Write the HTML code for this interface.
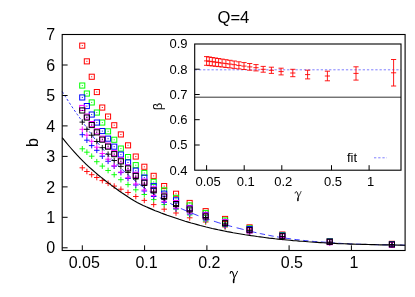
<!DOCTYPE html>
<html><head><meta charset="utf-8"><title>Q=4</title>
<style>html,body{margin:0;padding:0;background:#fff}svg text{font-family:"Liberation Sans",sans-serif;fill:#000}</style>
</head><body>
<svg width="415" height="297" viewBox="0 0 415 297" style="display:block;will-change:transform;opacity:0.999">
<rect width="415" height="297" fill="#fff"/>
<path d="M62.2,91.5 L65.2,96.3 L68.2,101.0 L71.2,105.6 L74.2,110.0 L77.2,114.3 L80.2,118.5 L83.2,122.6 L86.2,127.1 L89.2,131.3 L92.2,135.5" fill="none" stroke="#0000ff" stroke-width="0.78" stroke-dasharray="2.4 2.0"/>
<path d="M92.2,135.5 L95.2,139.4 L98.2,143.3 L101.2,147.0 L104.2,150.6 L107.2,154.0 L110.2,157.3 L113.2,160.5 L116.2,163.6 L119.2,166.6 L122.2,169.5 L125.2,172.3 L128.2,175.0 L131.2,177.6 L134.2,180.1 L137.2,182.5 L140.2,184.8" fill="none" stroke="#0000ff" stroke-width="0.78" stroke-dasharray="4.5 3"/>
<path d="M140.2,184.8 L143.2,187.1 L146.2,189.2 L149.2,191.2 L152.2,193.1 L155.2,195.0 L158.2,196.8 L161.2,198.5 L164.2,200.2 L167.2,201.8 L170.2,203.4 L173.2,204.9 L176.2,206.4 L179.2,207.8 L182.2,209.1 L185.2,210.4 L188.2,211.7 L191.2,212.9 L194.2,214.1 L197.2,215.3 L200.2,216.4 L203.2,217.4 L206.2,218.5 L209.2,219.5 L212.2,220.6 L215.2,221.6 L218.2,222.6 L221.2,223.5 L224.2,224.4 L227.2,225.3 L230.2,226.1 L233.2,226.9 L236.2,227.7 L239.2,228.4 L242.2,229.2 L245.2,229.9 L248.2,230.7 L251.2,231.5" fill="none" stroke="#0000ff" stroke-width="0.78" stroke-dasharray="7.2 4.6"/>
<path d="M251.2,231.5 L254.2,232.2 L257.2,232.9 L260.2,233.6 L263.2,234.2 L266.2,234.8 L269.2,235.4 L272.2,236.0 L275.2,236.5 L278.2,237.0 L281.2,237.5 L284.2,237.9 L287.2,238.4 L290.2,238.8 L293.2,239.2 L296.2,239.6 L299.2,239.9 L302.2,240.3 L305.2,240.6 L308.2,240.9 L311.2,241.2 L314.2,241.5 L317.2,241.7 L320.2,241.9 L323.2,242.1 L326.2,242.3 L329.2,242.5 L332.2,242.8 L335.2,243.0 L338.2,243.2 L341.2,243.4 L344.2,243.6 L347.2,243.7 L350.2,243.9 L353.2,244.0 L356.2,244.1 L359.2,244.2 L362.2,244.3 L365.2,244.4 L368.2,244.5 L371.2,244.5 L374.2,244.6 L377.2,244.7 L380.2,244.8 L383.2,244.8 L386.2,244.9 L389.2,245.0 L392.2,245.0 L395.2,245.1 L398.2,245.1 L401.2,245.1 L404.2,245.2 L405.1,245.2" fill="none" stroke="#0000ff" stroke-width="0.78" stroke-dasharray="5.4 3.4"/>
<path d="M79.5,167.8H85.1M82.3,165.0V170.6" stroke="#ff0000" stroke-width="0.92" fill="none"/>
<path d="M84.1,171.5H89.7M86.9,168.7V174.3" stroke="#ff0000" stroke-width="0.92" fill="none"/>
<path d="M88.9,174.7H94.5M91.7,171.9V177.5" stroke="#ff0000" stroke-width="0.92" fill="none"/>
<path d="M94.0,177.5H99.6M96.8,174.7V180.3" stroke="#ff0000" stroke-width="0.92" fill="none"/>
<path d="M99.5,180.6H105.1M102.3,177.8V183.4" stroke="#ff0000" stroke-width="0.92" fill="none"/>
<path d="M105.3,183.3H110.9M108.1,180.5V186.1" stroke="#ff0000" stroke-width="0.92" fill="none"/>
<path d="M111.4,186.1H117.0M114.2,183.3V188.9" stroke="#ff0000" stroke-width="0.92" fill="none"/>
<path d="M118.1,189.2H123.7M120.9,186.4V192.0" stroke="#ff0000" stroke-width="0.92" fill="none"/>
<path d="M125.2,192.5H130.8M128.0,189.7V195.3" stroke="#ff0000" stroke-width="0.92" fill="none"/>
<path d="M133.0,196.5H138.6M135.8,193.7V199.3" stroke="#ff0000" stroke-width="0.92" fill="none"/>
<path d="M141.5,200.4H147.1M144.3,197.6V203.2" stroke="#ff0000" stroke-width="0.92" fill="none"/>
<path d="M150.9,204.6H156.5M153.7,201.8V207.4" stroke="#ff0000" stroke-width="0.92" fill="none"/>
<path d="M161.4,209.2H167.0M164.2,206.4V212.0" stroke="#ff0000" stroke-width="0.92" fill="none"/>
<path d="M173.2,213.0H178.8M176.0,210.2V215.8" stroke="#ff0000" stroke-width="0.92" fill="none"/>
<path d="M186.9,217.8H192.5M189.7,215.0V220.6" stroke="#ff0000" stroke-width="0.92" fill="none"/>
<path d="M202.9,222.0H208.5M205.7,219.2V224.8" stroke="#ff0000" stroke-width="0.92" fill="none"/>
<path d="M222.3,227.0H227.9M225.1,224.2V229.8" stroke="#ff0000" stroke-width="0.92" fill="none"/>
<path d="M246.8,231.5H252.4M249.6,228.7V234.3" stroke="#ff0000" stroke-width="0.92" fill="none"/>
<path d="M279.6,236.8H285.2M282.4,234.0V239.6" stroke="#ff0000" stroke-width="0.92" fill="none"/>
<path d="M326.9,242.4H332.5M329.7,239.6V245.2" stroke="#ff0000" stroke-width="0.92" fill="none"/>
<path d="M389.2,244.8H394.8M392.0,242.0V247.6" stroke="#ff0000" stroke-width="0.92" fill="none"/>
<rect x="79.7" y="43.1" width="5.1" height="5.1" stroke="#ff0000" stroke-width="1" fill="none"/><rect x="81.8" y="45.1" width="1" height="1" fill="#ff0000"/>
<rect x="84.3" y="58.8" width="5.1" height="5.1" stroke="#ff0000" stroke-width="1" fill="none"/><rect x="86.4" y="60.8" width="1" height="1" fill="#ff0000"/>
<rect x="89.2" y="74.2" width="5.1" height="5.1" stroke="#ff0000" stroke-width="1" fill="none"/><rect x="91.2" y="76.3" width="1" height="1" fill="#ff0000"/>
<rect x="94.3" y="89.5" width="5.1" height="5.1" stroke="#ff0000" stroke-width="1" fill="none"/><rect x="96.3" y="91.5" width="1" height="1" fill="#ff0000"/>
<rect x="99.7" y="105.0" width="5.1" height="5.1" stroke="#ff0000" stroke-width="1" fill="none"/><rect x="101.8" y="107.0" width="1" height="1" fill="#ff0000"/>
<rect x="105.5" y="114.0" width="5.1" height="5.1" stroke="#ff0000" stroke-width="1" fill="none"/><rect x="107.6" y="116.0" width="1" height="1" fill="#ff0000"/>
<rect x="111.7" y="122.7" width="5.1" height="5.1" stroke="#ff0000" stroke-width="1" fill="none"/><rect x="113.7" y="124.7" width="1" height="1" fill="#ff0000"/>
<rect x="118.3" y="131.9" width="5.1" height="5.1" stroke="#ff0000" stroke-width="1" fill="none"/><rect x="120.4" y="134.0" width="1" height="1" fill="#ff0000"/>
<rect x="125.5" y="142.8" width="5.1" height="5.1" stroke="#ff0000" stroke-width="1" fill="none"/><rect x="127.5" y="144.8" width="1" height="1" fill="#ff0000"/>
<rect x="133.2" y="154.0" width="5.1" height="5.1" stroke="#ff0000" stroke-width="1" fill="none"/><rect x="135.3" y="156.1" width="1" height="1" fill="#ff0000"/>
<rect x="141.8" y="164.2" width="5.1" height="5.1" stroke="#ff0000" stroke-width="1" fill="none"/><rect x="143.8" y="166.3" width="1" height="1" fill="#ff0000"/>
<rect x="151.1" y="173.3" width="5.1" height="5.1" stroke="#ff0000" stroke-width="1" fill="none"/><rect x="153.2" y="175.4" width="1" height="1" fill="#ff0000"/>
<rect x="161.6" y="183.5" width="5.1" height="5.1" stroke="#ff0000" stroke-width="1" fill="none"/><rect x="163.7" y="185.6" width="1" height="1" fill="#ff0000"/>
<rect x="173.5" y="191.2" width="5.1" height="5.1" stroke="#ff0000" stroke-width="1" fill="none"/><rect x="175.5" y="193.3" width="1" height="1" fill="#ff0000"/>
<rect x="187.1" y="200.4" width="5.1" height="5.1" stroke="#ff0000" stroke-width="1" fill="none"/><rect x="189.2" y="202.5" width="1" height="1" fill="#ff0000"/>
<rect x="203.1" y="208.6" width="5.1" height="5.1" stroke="#ff0000" stroke-width="1" fill="none"/><rect x="205.2" y="210.7" width="1" height="1" fill="#ff0000"/>
<rect x="222.5" y="216.4" width="5.1" height="5.1" stroke="#ff0000" stroke-width="1" fill="none"/><rect x="224.6" y="218.5" width="1" height="1" fill="#ff0000"/>
<rect x="247.0" y="224.8" width="5.1" height="5.1" stroke="#ff0000" stroke-width="1" fill="none"/><rect x="249.1" y="226.9" width="1" height="1" fill="#ff0000"/>
<rect x="279.8" y="232.0" width="5.1" height="5.1" stroke="#ff0000" stroke-width="1" fill="none"/><rect x="281.9" y="234.1" width="1" height="1" fill="#ff0000"/>
<rect x="327.2" y="238.5" width="5.1" height="5.1" stroke="#ff0000" stroke-width="1" fill="none"/><rect x="329.2" y="240.6" width="1" height="1" fill="#ff0000"/>
<rect x="389.4" y="241.3" width="5.1" height="5.1" stroke="#ff0000" stroke-width="1" fill="none"/><rect x="391.5" y="243.4" width="1" height="1" fill="#ff0000"/>
<path d="M79.5,148.8H85.1M82.3,146.0V151.6" stroke="#00ff00" stroke-width="0.92" fill="none"/>
<path d="M84.1,152.2H89.7M86.9,149.4V155.0" stroke="#00ff00" stroke-width="0.92" fill="none"/>
<path d="M88.9,156.2H94.5M91.7,153.4V159.0" stroke="#00ff00" stroke-width="0.92" fill="none"/>
<path d="M94.0,161.7H99.6M96.8,158.9V164.5" stroke="#00ff00" stroke-width="0.92" fill="none"/>
<path d="M99.5,166.1H105.1M102.3,163.3V168.9" stroke="#00ff00" stroke-width="0.92" fill="none"/>
<path d="M105.3,170.5H110.9M108.1,167.7V173.3" stroke="#00ff00" stroke-width="0.92" fill="none"/>
<path d="M111.4,174.7H117.0M114.2,171.9V177.5" stroke="#00ff00" stroke-width="0.92" fill="none"/>
<path d="M118.1,179.7H123.7M120.9,176.9V182.5" stroke="#00ff00" stroke-width="0.92" fill="none"/>
<path d="M125.2,184.6H130.8M128.0,181.8V187.4" stroke="#00ff00" stroke-width="0.92" fill="none"/>
<path d="M133.0,189.8H138.6M135.8,187.0V192.6" stroke="#00ff00" stroke-width="0.92" fill="none"/>
<path d="M141.5,194.5H147.1M144.3,191.7V197.3" stroke="#00ff00" stroke-width="0.92" fill="none"/>
<path d="M150.9,199.6H156.5M153.7,196.8V202.4" stroke="#00ff00" stroke-width="0.92" fill="none"/>
<path d="M161.4,204.6H167.0M164.2,201.8V207.4" stroke="#00ff00" stroke-width="0.92" fill="none"/>
<path d="M173.2,209.2H178.8M176.0,206.4V212.0" stroke="#00ff00" stroke-width="0.92" fill="none"/>
<path d="M186.9,215.0H192.5M189.7,212.2V217.8" stroke="#00ff00" stroke-width="0.92" fill="none"/>
<path d="M202.9,221.0H208.5M205.7,218.2V223.8" stroke="#00ff00" stroke-width="0.92" fill="none"/>
<path d="M222.3,226.5H227.9M225.1,223.7V229.3" stroke="#00ff00" stroke-width="0.92" fill="none"/>
<path d="M246.8,231.7H252.4M249.6,228.9V234.5" stroke="#00ff00" stroke-width="0.92" fill="none"/>
<path d="M279.6,237.0H285.2M282.4,234.2V239.8" stroke="#00ff00" stroke-width="0.92" fill="none"/>
<path d="M326.9,242.5H332.5M329.7,239.7V245.3" stroke="#00ff00" stroke-width="0.92" fill="none"/>
<path d="M389.2,244.9H394.8M392.0,242.1V247.7" stroke="#00ff00" stroke-width="0.92" fill="none"/>
<rect x="79.7" y="83.0" width="5.1" height="5.1" stroke="#00ff00" stroke-width="1" fill="none"/><rect x="81.8" y="85.1" width="1" height="1" fill="#00ff00"/>
<rect x="84.3" y="91.0" width="5.1" height="5.1" stroke="#00ff00" stroke-width="1" fill="none"/><rect x="86.4" y="93.1" width="1" height="1" fill="#00ff00"/>
<rect x="89.2" y="99.9" width="5.1" height="5.1" stroke="#00ff00" stroke-width="1" fill="none"/><rect x="91.2" y="101.9" width="1" height="1" fill="#00ff00"/>
<rect x="94.3" y="110.0" width="5.1" height="5.1" stroke="#00ff00" stroke-width="1" fill="none"/><rect x="96.3" y="112.1" width="1" height="1" fill="#00ff00"/>
<rect x="99.7" y="120.0" width="5.1" height="5.1" stroke="#00ff00" stroke-width="1" fill="none"/><rect x="101.8" y="122.1" width="1" height="1" fill="#00ff00"/>
<rect x="105.5" y="128.8" width="5.1" height="5.1" stroke="#00ff00" stroke-width="1" fill="none"/><rect x="107.6" y="130.8" width="1" height="1" fill="#00ff00"/>
<rect x="111.7" y="137.2" width="5.1" height="5.1" stroke="#00ff00" stroke-width="1" fill="none"/><rect x="113.7" y="139.3" width="1" height="1" fill="#00ff00"/>
<rect x="118.3" y="146.0" width="5.1" height="5.1" stroke="#00ff00" stroke-width="1" fill="none"/><rect x="120.4" y="148.1" width="1" height="1" fill="#00ff00"/>
<rect x="125.5" y="154.5" width="5.1" height="5.1" stroke="#00ff00" stroke-width="1" fill="none"/><rect x="127.5" y="156.6" width="1" height="1" fill="#00ff00"/>
<rect x="133.2" y="162.6" width="5.1" height="5.1" stroke="#00ff00" stroke-width="1" fill="none"/><rect x="135.3" y="164.7" width="1" height="1" fill="#00ff00"/>
<rect x="141.8" y="170.4" width="5.1" height="5.1" stroke="#00ff00" stroke-width="1" fill="none"/><rect x="143.8" y="172.5" width="1" height="1" fill="#00ff00"/>
<rect x="151.1" y="179.3" width="5.1" height="5.1" stroke="#00ff00" stroke-width="1" fill="none"/><rect x="153.2" y="181.4" width="1" height="1" fill="#00ff00"/>
<rect x="161.6" y="187.8" width="5.1" height="5.1" stroke="#00ff00" stroke-width="1" fill="none"/><rect x="163.7" y="189.8" width="1" height="1" fill="#00ff00"/>
<rect x="173.5" y="195.3" width="5.1" height="5.1" stroke="#00ff00" stroke-width="1" fill="none"/><rect x="175.5" y="197.4" width="1" height="1" fill="#00ff00"/>
<rect x="187.1" y="202.9" width="5.1" height="5.1" stroke="#00ff00" stroke-width="1" fill="none"/><rect x="189.2" y="205.0" width="1" height="1" fill="#00ff00"/>
<rect x="203.1" y="210.4" width="5.1" height="5.1" stroke="#00ff00" stroke-width="1" fill="none"/><rect x="205.2" y="212.5" width="1" height="1" fill="#00ff00"/>
<rect x="222.5" y="217.9" width="5.1" height="5.1" stroke="#00ff00" stroke-width="1" fill="none"/><rect x="224.6" y="220.0" width="1" height="1" fill="#00ff00"/>
<rect x="247.0" y="225.8" width="5.1" height="5.1" stroke="#00ff00" stroke-width="1" fill="none"/><rect x="249.1" y="227.8" width="1" height="1" fill="#00ff00"/>
<rect x="279.8" y="232.6" width="5.1" height="5.1" stroke="#00ff00" stroke-width="1" fill="none"/><rect x="281.9" y="234.7" width="1" height="1" fill="#00ff00"/>
<rect x="327.2" y="238.8" width="5.1" height="5.1" stroke="#00ff00" stroke-width="1" fill="none"/><rect x="329.2" y="240.9" width="1" height="1" fill="#00ff00"/>
<rect x="389.4" y="241.5" width="5.1" height="5.1" stroke="#00ff00" stroke-width="1" fill="none"/><rect x="391.5" y="243.6" width="1" height="1" fill="#00ff00"/>
<path d="M79.5,134.7H85.1M82.3,131.9V137.5" stroke="#0000ff" stroke-width="0.92" fill="none"/>
<path d="M84.1,140.2H89.7M86.9,137.4V143.0" stroke="#0000ff" stroke-width="0.92" fill="none"/>
<path d="M88.9,145.6H94.5M91.7,142.8V148.4" stroke="#0000ff" stroke-width="0.92" fill="none"/>
<path d="M94.0,150.3H99.6M96.8,147.5V153.1" stroke="#0000ff" stroke-width="0.92" fill="none"/>
<path d="M99.5,156.2H105.1M102.3,153.4V159.0" stroke="#0000ff" stroke-width="0.92" fill="none"/>
<path d="M105.3,161.3H110.9M108.1,158.5V164.1" stroke="#0000ff" stroke-width="0.92" fill="none"/>
<path d="M111.4,166.2H117.0M114.2,163.4V169.0" stroke="#0000ff" stroke-width="0.92" fill="none"/>
<path d="M118.1,172.6H123.7M120.9,169.8V175.4" stroke="#0000ff" stroke-width="0.92" fill="none"/>
<path d="M125.2,178.5H130.8M128.0,175.7V181.3" stroke="#0000ff" stroke-width="0.92" fill="none"/>
<path d="M133.0,185.0H138.6M135.8,182.2V187.8" stroke="#0000ff" stroke-width="0.92" fill="none"/>
<path d="M141.5,191.0H147.1M144.3,188.2V193.8" stroke="#0000ff" stroke-width="0.92" fill="none"/>
<path d="M150.9,196.5H156.5M153.7,193.7V199.3" stroke="#0000ff" stroke-width="0.92" fill="none"/>
<path d="M161.4,202.3H167.0M164.2,199.5V205.1" stroke="#0000ff" stroke-width="0.92" fill="none"/>
<path d="M173.2,208.7H178.8M176.0,205.9V211.5" stroke="#0000ff" stroke-width="0.92" fill="none"/>
<path d="M186.9,214.0H192.5M189.7,211.2V216.8" stroke="#0000ff" stroke-width="0.92" fill="none"/>
<path d="M202.9,220.0H208.5M205.7,217.2V222.8" stroke="#0000ff" stroke-width="0.92" fill="none"/>
<path d="M222.3,226.0H227.9M225.1,223.2V228.8" stroke="#0000ff" stroke-width="0.92" fill="none"/>
<path d="M246.8,231.8H252.4M249.6,229.0V234.6" stroke="#0000ff" stroke-width="0.92" fill="none"/>
<path d="M279.6,237.2H285.2M282.4,234.4V240.0" stroke="#0000ff" stroke-width="0.92" fill="none"/>
<path d="M326.9,242.6H332.5M329.7,239.8V245.4" stroke="#0000ff" stroke-width="0.92" fill="none"/>
<path d="M389.2,245.0H394.8M392.0,242.2V247.8" stroke="#0000ff" stroke-width="0.92" fill="none"/>
<rect x="79.7" y="94.9" width="5.1" height="5.1" stroke="#0000ff" stroke-width="1" fill="none"/><rect x="81.8" y="96.9" width="1" height="1" fill="#0000ff"/>
<rect x="84.3" y="103.5" width="5.1" height="5.1" stroke="#0000ff" stroke-width="1" fill="none"/><rect x="86.4" y="105.6" width="1" height="1" fill="#0000ff"/>
<rect x="89.2" y="112.0" width="5.1" height="5.1" stroke="#0000ff" stroke-width="1" fill="none"/><rect x="91.2" y="114.1" width="1" height="1" fill="#0000ff"/>
<rect x="94.3" y="120.0" width="5.1" height="5.1" stroke="#0000ff" stroke-width="1" fill="none"/><rect x="96.3" y="122.1" width="1" height="1" fill="#0000ff"/>
<rect x="99.7" y="128.5" width="5.1" height="5.1" stroke="#0000ff" stroke-width="1" fill="none"/><rect x="101.8" y="130.6" width="1" height="1" fill="#0000ff"/>
<rect x="105.5" y="136.1" width="5.1" height="5.1" stroke="#0000ff" stroke-width="1" fill="none"/><rect x="107.6" y="138.2" width="1" height="1" fill="#0000ff"/>
<rect x="111.7" y="144.1" width="5.1" height="5.1" stroke="#0000ff" stroke-width="1" fill="none"/><rect x="113.7" y="146.2" width="1" height="1" fill="#0000ff"/>
<rect x="118.3" y="152.0" width="5.1" height="5.1" stroke="#0000ff" stroke-width="1" fill="none"/><rect x="120.4" y="154.1" width="1" height="1" fill="#0000ff"/>
<rect x="125.5" y="159.9" width="5.1" height="5.1" stroke="#0000ff" stroke-width="1" fill="none"/><rect x="127.5" y="162.0" width="1" height="1" fill="#0000ff"/>
<rect x="133.2" y="168.1" width="5.1" height="5.1" stroke="#0000ff" stroke-width="1" fill="none"/><rect x="135.3" y="170.2" width="1" height="1" fill="#0000ff"/>
<rect x="141.8" y="175.0" width="5.1" height="5.1" stroke="#0000ff" stroke-width="1" fill="none"/><rect x="143.8" y="177.1" width="1" height="1" fill="#0000ff"/>
<rect x="151.1" y="183.4" width="5.1" height="5.1" stroke="#0000ff" stroke-width="1" fill="none"/><rect x="153.2" y="185.5" width="1" height="1" fill="#0000ff"/>
<rect x="161.6" y="191.1" width="5.1" height="5.1" stroke="#0000ff" stroke-width="1" fill="none"/><rect x="163.7" y="193.2" width="1" height="1" fill="#0000ff"/>
<rect x="173.5" y="197.8" width="5.1" height="5.1" stroke="#0000ff" stroke-width="1" fill="none"/><rect x="175.5" y="199.9" width="1" height="1" fill="#0000ff"/>
<rect x="187.1" y="205.4" width="5.1" height="5.1" stroke="#0000ff" stroke-width="1" fill="none"/><rect x="189.2" y="207.5" width="1" height="1" fill="#0000ff"/>
<rect x="203.1" y="212.4" width="5.1" height="5.1" stroke="#0000ff" stroke-width="1" fill="none"/><rect x="205.2" y="214.5" width="1" height="1" fill="#0000ff"/>
<rect x="222.5" y="219.4" width="5.1" height="5.1" stroke="#0000ff" stroke-width="1" fill="none"/><rect x="224.6" y="221.5" width="1" height="1" fill="#0000ff"/>
<rect x="247.0" y="226.5" width="5.1" height="5.1" stroke="#0000ff" stroke-width="1" fill="none"/><rect x="249.1" y="228.6" width="1" height="1" fill="#0000ff"/>
<rect x="279.8" y="233.0" width="5.1" height="5.1" stroke="#0000ff" stroke-width="1" fill="none"/><rect x="281.9" y="235.1" width="1" height="1" fill="#0000ff"/>
<rect x="327.2" y="239.0" width="5.1" height="5.1" stroke="#0000ff" stroke-width="1" fill="none"/><rect x="329.2" y="241.1" width="1" height="1" fill="#0000ff"/>
<rect x="389.4" y="241.8" width="5.1" height="5.1" stroke="#0000ff" stroke-width="1" fill="none"/><rect x="391.5" y="243.8" width="1" height="1" fill="#0000ff"/>
<path d="M79.5,129.3H85.1M82.3,126.5V132.1" stroke="#ff00ff" stroke-width="0.92" fill="none"/>
<path d="M84.1,135.2H89.7M86.9,132.4V138.0" stroke="#ff00ff" stroke-width="0.92" fill="none"/>
<path d="M88.9,141.3H94.5M91.7,138.5V144.1" stroke="#ff00ff" stroke-width="0.92" fill="none"/>
<path d="M94.0,147.2H99.6M96.8,144.4V150.0" stroke="#ff00ff" stroke-width="0.92" fill="none"/>
<path d="M99.5,153.5H105.1M102.3,150.7V156.3" stroke="#ff00ff" stroke-width="0.92" fill="none"/>
<path d="M105.3,159.2H110.9M108.1,156.4V162.0" stroke="#ff00ff" stroke-width="0.92" fill="none"/>
<path d="M111.4,165.8H117.0M114.2,163.0V168.6" stroke="#ff00ff" stroke-width="0.92" fill="none"/>
<path d="M118.1,172.1H123.7M120.9,169.3V174.9" stroke="#ff00ff" stroke-width="0.92" fill="none"/>
<path d="M125.2,177.7H130.8M128.0,174.9V180.5" stroke="#ff00ff" stroke-width="0.92" fill="none"/>
<path d="M133.0,184.0H138.6M135.8,181.2V186.8" stroke="#ff00ff" stroke-width="0.92" fill="none"/>
<path d="M141.5,190.0H147.1M144.3,187.2V192.8" stroke="#ff00ff" stroke-width="0.92" fill="none"/>
<path d="M150.9,195.4H156.5M153.7,192.6V198.2" stroke="#ff00ff" stroke-width="0.92" fill="none"/>
<path d="M161.4,201.3H167.0M164.2,198.5V204.1" stroke="#ff00ff" stroke-width="0.92" fill="none"/>
<path d="M173.2,208.0H178.8M176.0,205.2V210.8" stroke="#ff00ff" stroke-width="0.92" fill="none"/>
<path d="M186.9,213.0H192.5M189.7,210.2V215.8" stroke="#ff00ff" stroke-width="0.92" fill="none"/>
<path d="M202.9,219.0H208.5M205.7,216.2V221.8" stroke="#ff00ff" stroke-width="0.92" fill="none"/>
<path d="M222.3,225.0H227.9M225.1,222.2V227.8" stroke="#ff00ff" stroke-width="0.92" fill="none"/>
<path d="M246.8,232.0H252.4M249.6,229.2V234.8" stroke="#ff00ff" stroke-width="0.92" fill="none"/>
<path d="M279.6,237.4H285.2M282.4,234.6V240.2" stroke="#ff00ff" stroke-width="0.92" fill="none"/>
<path d="M326.9,242.9H332.5M329.7,240.1V245.7" stroke="#ff00ff" stroke-width="0.92" fill="none"/>
<path d="M389.2,245.2H394.8M392.0,242.4V248.0" stroke="#ff00ff" stroke-width="0.92" fill="none"/>
<rect x="79.7" y="105.4" width="5.1" height="5.1" stroke="#ff00ff" stroke-width="1" fill="none"/><rect x="81.8" y="107.4" width="1" height="1" fill="#ff00ff"/>
<rect x="84.3" y="114.0" width="5.1" height="5.1" stroke="#ff00ff" stroke-width="1" fill="none"/><rect x="86.4" y="116.0" width="1" height="1" fill="#ff00ff"/>
<rect x="89.2" y="121.5" width="5.1" height="5.1" stroke="#ff00ff" stroke-width="1" fill="none"/><rect x="91.2" y="123.6" width="1" height="1" fill="#ff00ff"/>
<rect x="94.3" y="128.8" width="5.1" height="5.1" stroke="#ff00ff" stroke-width="1" fill="none"/><rect x="96.3" y="130.8" width="1" height="1" fill="#ff00ff"/>
<rect x="99.7" y="136.1" width="5.1" height="5.1" stroke="#ff00ff" stroke-width="1" fill="none"/><rect x="101.8" y="138.2" width="1" height="1" fill="#ff00ff"/>
<rect x="105.5" y="143.1" width="5.1" height="5.1" stroke="#ff00ff" stroke-width="1" fill="none"/><rect x="107.6" y="145.2" width="1" height="1" fill="#ff00ff"/>
<rect x="111.7" y="150.6" width="5.1" height="5.1" stroke="#ff00ff" stroke-width="1" fill="none"/><rect x="113.7" y="152.7" width="1" height="1" fill="#ff00ff"/>
<rect x="118.3" y="157.8" width="5.1" height="5.1" stroke="#ff00ff" stroke-width="1" fill="none"/><rect x="120.4" y="159.9" width="1" height="1" fill="#ff00ff"/>
<rect x="125.5" y="164.9" width="5.1" height="5.1" stroke="#ff00ff" stroke-width="1" fill="none"/><rect x="127.5" y="167.0" width="1" height="1" fill="#ff00ff"/>
<rect x="133.2" y="172.3" width="5.1" height="5.1" stroke="#ff00ff" stroke-width="1" fill="none"/><rect x="135.3" y="174.4" width="1" height="1" fill="#ff00ff"/>
<rect x="141.8" y="179.1" width="5.1" height="5.1" stroke="#ff00ff" stroke-width="1" fill="none"/><rect x="143.8" y="181.2" width="1" height="1" fill="#ff00ff"/>
<rect x="151.1" y="186.8" width="5.1" height="5.1" stroke="#ff00ff" stroke-width="1" fill="none"/><rect x="153.2" y="188.8" width="1" height="1" fill="#ff00ff"/>
<rect x="161.6" y="193.1" width="5.1" height="5.1" stroke="#ff00ff" stroke-width="1" fill="none"/><rect x="163.7" y="195.2" width="1" height="1" fill="#ff00ff"/>
<rect x="173.5" y="200.5" width="5.1" height="5.1" stroke="#ff00ff" stroke-width="1" fill="none"/><rect x="175.5" y="202.6" width="1" height="1" fill="#ff00ff"/>
<rect x="187.1" y="205.9" width="5.1" height="5.1" stroke="#ff00ff" stroke-width="1" fill="none"/><rect x="189.2" y="208.0" width="1" height="1" fill="#ff00ff"/>
<rect x="203.1" y="212.9" width="5.1" height="5.1" stroke="#ff00ff" stroke-width="1" fill="none"/><rect x="205.2" y="215.0" width="1" height="1" fill="#ff00ff"/>
<rect x="222.5" y="219.6" width="5.1" height="5.1" stroke="#ff00ff" stroke-width="1" fill="none"/><rect x="224.6" y="221.7" width="1" height="1" fill="#ff00ff"/>
<rect x="247.0" y="228.0" width="5.1" height="5.1" stroke="#ff00ff" stroke-width="1" fill="none"/><rect x="249.1" y="230.1" width="1" height="1" fill="#ff00ff"/>
<rect x="279.8" y="233.8" width="5.1" height="5.1" stroke="#ff00ff" stroke-width="1" fill="none"/><rect x="281.9" y="235.9" width="1" height="1" fill="#ff00ff"/>
<rect x="327.2" y="239.6" width="5.1" height="5.1" stroke="#ff00ff" stroke-width="1" fill="none"/><rect x="329.2" y="241.7" width="1" height="1" fill="#ff00ff"/>
<rect x="389.4" y="242.3" width="5.1" height="5.1" stroke="#ff00ff" stroke-width="1" fill="none"/><rect x="391.5" y="244.4" width="1" height="1" fill="#ff00ff"/>
<path d="M79.5,122.1H85.1M82.3,119.3V124.9" stroke="#000000" stroke-width="0.92" fill="none"/>
<path d="M84.1,129.3H89.7M86.9,126.5V132.1" stroke="#000000" stroke-width="0.92" fill="none"/>
<path d="M88.9,135.2H94.5M91.7,132.4V138.0" stroke="#000000" stroke-width="0.92" fill="none"/>
<path d="M94.0,141.5H99.6M96.8,138.7V144.3" stroke="#000000" stroke-width="0.92" fill="none"/>
<path d="M99.5,147.7H105.1M102.3,144.9V150.5" stroke="#000000" stroke-width="0.92" fill="none"/>
<path d="M105.3,154.2H110.9M108.1,151.4V157.0" stroke="#000000" stroke-width="0.92" fill="none"/>
<path d="M111.4,160.5H117.0M114.2,157.7V163.3" stroke="#000000" stroke-width="0.92" fill="none"/>
<path d="M118.1,166.4H123.7M120.9,163.6V169.2" stroke="#000000" stroke-width="0.92" fill="none"/>
<path d="M125.2,172.5H130.8M128.0,169.7V175.3" stroke="#000000" stroke-width="0.92" fill="none"/>
<path d="M133.0,179.0H138.6M135.8,176.2V181.8" stroke="#000000" stroke-width="0.92" fill="none"/>
<path d="M141.5,185.5H147.1M144.3,182.7V188.3" stroke="#000000" stroke-width="0.92" fill="none"/>
<path d="M150.9,192.0H156.5M153.7,189.2V194.8" stroke="#000000" stroke-width="0.92" fill="none"/>
<path d="M161.4,198.5H167.0M164.2,195.7V201.3" stroke="#000000" stroke-width="0.92" fill="none"/>
<path d="M173.2,205.5H178.8M176.0,202.7V208.3" stroke="#000000" stroke-width="0.92" fill="none"/>
<path d="M186.9,211.0H192.5M189.7,208.2V213.8" stroke="#000000" stroke-width="0.92" fill="none"/>
<path d="M202.9,217.5H208.5M205.7,214.7V220.3" stroke="#000000" stroke-width="0.92" fill="none"/>
<path d="M222.3,224.0H227.9M225.1,221.2V226.8" stroke="#000000" stroke-width="0.92" fill="none"/>
<path d="M246.8,230.8H252.4M249.6,228.0V233.6" stroke="#000000" stroke-width="0.92" fill="none"/>
<path d="M279.6,236.6H285.2M282.4,233.8V239.4" stroke="#000000" stroke-width="0.92" fill="none"/>
<path d="M326.9,242.2H332.5M329.7,239.4V245.0" stroke="#000000" stroke-width="0.92" fill="none"/>
<path d="M389.2,244.6H394.8M392.0,241.8V247.4" stroke="#000000" stroke-width="0.92" fill="none"/>
<rect x="79.7" y="107.9" width="5.1" height="5.1" stroke="#000000" stroke-width="1" fill="none"/><rect x="81.8" y="109.9" width="1" height="1" fill="#000000"/>
<rect x="84.3" y="115.0" width="5.1" height="5.1" stroke="#000000" stroke-width="1" fill="none"/><rect x="86.4" y="117.0" width="1" height="1" fill="#000000"/>
<rect x="89.2" y="122.5" width="5.1" height="5.1" stroke="#000000" stroke-width="1" fill="none"/><rect x="91.2" y="124.6" width="1" height="1" fill="#000000"/>
<rect x="94.3" y="129.8" width="5.1" height="5.1" stroke="#000000" stroke-width="1" fill="none"/><rect x="96.3" y="131.8" width="1" height="1" fill="#000000"/>
<rect x="99.7" y="137.1" width="5.1" height="5.1" stroke="#000000" stroke-width="1" fill="none"/><rect x="101.8" y="139.2" width="1" height="1" fill="#000000"/>
<rect x="105.5" y="144.1" width="5.1" height="5.1" stroke="#000000" stroke-width="1" fill="none"/><rect x="107.6" y="146.2" width="1" height="1" fill="#000000"/>
<rect x="111.7" y="151.6" width="5.1" height="5.1" stroke="#000000" stroke-width="1" fill="none"/><rect x="113.7" y="153.7" width="1" height="1" fill="#000000"/>
<rect x="118.3" y="158.8" width="5.1" height="5.1" stroke="#000000" stroke-width="1" fill="none"/><rect x="120.4" y="160.9" width="1" height="1" fill="#000000"/>
<rect x="125.5" y="165.9" width="5.1" height="5.1" stroke="#000000" stroke-width="1" fill="none"/><rect x="127.5" y="168.0" width="1" height="1" fill="#000000"/>
<rect x="133.2" y="173.3" width="5.1" height="5.1" stroke="#000000" stroke-width="1" fill="none"/><rect x="135.3" y="175.4" width="1" height="1" fill="#000000"/>
<rect x="141.8" y="180.1" width="5.1" height="5.1" stroke="#000000" stroke-width="1" fill="none"/><rect x="143.8" y="182.2" width="1" height="1" fill="#000000"/>
<rect x="151.1" y="187.8" width="5.1" height="5.1" stroke="#000000" stroke-width="1" fill="none"/><rect x="153.2" y="189.8" width="1" height="1" fill="#000000"/>
<rect x="161.6" y="194.1" width="5.1" height="5.1" stroke="#000000" stroke-width="1" fill="none"/><rect x="163.7" y="196.2" width="1" height="1" fill="#000000"/>
<rect x="173.5" y="201.5" width="5.1" height="5.1" stroke="#000000" stroke-width="1" fill="none"/><rect x="175.5" y="203.6" width="1" height="1" fill="#000000"/>
<rect x="187.1" y="206.9" width="5.1" height="5.1" stroke="#000000" stroke-width="1" fill="none"/><rect x="189.2" y="209.0" width="1" height="1" fill="#000000"/>
<rect x="203.1" y="213.9" width="5.1" height="5.1" stroke="#000000" stroke-width="1" fill="none"/><rect x="205.2" y="216.0" width="1" height="1" fill="#000000"/>
<rect x="222.5" y="220.6" width="5.1" height="5.1" stroke="#000000" stroke-width="1" fill="none"/><rect x="224.6" y="222.7" width="1" height="1" fill="#000000"/>
<rect x="247.0" y="227.6" width="5.1" height="5.1" stroke="#000000" stroke-width="1" fill="none"/><rect x="249.1" y="229.7" width="1" height="1" fill="#000000"/>
<rect x="279.8" y="233.6" width="5.1" height="5.1" stroke="#000000" stroke-width="1" fill="none"/><rect x="281.9" y="235.7" width="1" height="1" fill="#000000"/>
<rect x="327.2" y="239.3" width="5.1" height="5.1" stroke="#000000" stroke-width="1" fill="none"/><rect x="329.2" y="241.4" width="1" height="1" fill="#000000"/>
<rect x="389.4" y="241.9" width="5.1" height="5.1" stroke="#000000" stroke-width="1" fill="none"/><rect x="391.5" y="244.0" width="1" height="1" fill="#000000"/>
<path d="M62.2,137.7 L65.2,141.4 L68.2,145.0 L71.2,148.5 L74.2,151.9 L77.2,155.2 L80.2,158.3 L83.2,161.4 L86.2,164.3 L89.2,167.1 L92.2,169.8 L95.2,172.4 L98.2,175.0 L101.2,177.4 L104.2,179.8 L107.2,182.1 L110.2,184.4 L113.2,186.6 L116.2,188.8 L119.2,191.0 L122.2,193.1 L125.2,195.1 L128.2,197.1 L131.2,198.9 L134.2,200.7 L137.2,202.4 L140.2,203.9 L143.2,205.4 L146.2,206.8 L149.2,208.1 L152.2,209.4 L155.2,210.7 L158.2,211.8 L161.2,213.0 L164.2,214.1 L167.2,215.2 L170.2,216.2 L173.2,217.2 L176.2,218.2 L179.2,219.3 L182.2,220.2 L185.2,221.2 L188.2,222.1 L191.2,223.0 L194.2,223.8 L197.2,224.6 L200.2,225.5 L203.2,226.2 L206.2,227.0 L209.2,227.7 L212.2,228.5 L215.2,229.1 L218.2,229.8 L221.2,230.4 L224.2,231.0 L227.2,231.6 L230.2,232.1 L233.2,232.7 L236.2,233.2 L239.2,233.7 L242.2,234.2 L245.2,234.7 L248.2,235.1 L251.2,235.6 L254.2,236.0 L257.2,236.5 L260.2,236.9 L263.2,237.3 L266.2,237.7 L269.2,238.1 L272.2,238.4 L275.2,238.8 L278.2,239.1 L281.2,239.4 L284.2,239.7 L287.2,240.0 L290.2,240.3 L293.2,240.6 L296.2,240.8 L299.2,241.1 L302.2,241.3 L305.2,241.5 L308.2,241.8 L311.2,242.0 L314.2,242.2 L317.2,242.4 L320.2,242.6 L323.2,242.8 L326.2,243.0 L329.2,243.2 L332.2,243.3 L335.2,243.4 L338.2,243.6 L341.2,243.7 L344.2,243.8 L347.2,243.9 L350.2,244.1 L353.2,244.1 L356.2,244.2 L359.2,244.3 L362.2,244.4 L365.2,244.4 L368.2,244.5 L371.2,244.6 L374.2,244.6 L377.2,244.7 L380.2,244.8 L383.2,244.8 L386.2,244.9 L389.2,244.9 L392.2,245.0 L395.2,245.0 L398.2,245.1 L401.2,245.1 L404.2,245.2 L405.1,245.2" fill="none" stroke="#000" stroke-width="1.15"/>
<rect x="62.2" y="34.5" width="342.9" height="216.0" fill="none" stroke="#000" stroke-width="1.1"/>
<path d="M62.2,247.8h5.4" stroke="#000" stroke-width="1"/>
<text x="55.2" y="253.4" font-size="16" text-anchor="end">0</text>
<path d="M62.2,217.3h5.4" stroke="#000" stroke-width="1"/>
<text x="55.2" y="222.9" font-size="16" text-anchor="end">1</text>
<path d="M62.2,186.9h5.4" stroke="#000" stroke-width="1"/>
<text x="55.2" y="192.5" font-size="16" text-anchor="end">2</text>
<path d="M62.2,156.4h5.4" stroke="#000" stroke-width="1"/>
<text x="55.2" y="162.0" font-size="16" text-anchor="end">3</text>
<path d="M62.2,125.9h5.4" stroke="#000" stroke-width="1"/>
<text x="55.2" y="131.5" font-size="16" text-anchor="end">4</text>
<path d="M62.2,95.5h5.4" stroke="#000" stroke-width="1"/>
<text x="55.2" y="101.1" font-size="16" text-anchor="end">5</text>
<path d="M62.2,65.0h5.4" stroke="#000" stroke-width="1"/>
<text x="55.2" y="70.6" font-size="16" text-anchor="end">6</text>
<text x="55.2" y="40.1" font-size="16" text-anchor="end">7</text>
<path d="M82.3,250.5v-5.2" stroke="#000" stroke-width="1"/>
<text x="84.3" y="268.4" font-size="16" text-anchor="middle">0.05</text>
<path d="M144.6,250.5v-5.2" stroke="#000" stroke-width="1"/>
<text x="146.6" y="268.4" font-size="16" text-anchor="middle">0.1</text>
<path d="M206.9,250.5v-5.2" stroke="#000" stroke-width="1"/>
<text x="209.4" y="268.4" font-size="16" text-anchor="middle">0.2</text>
<path d="M289.1,250.5v-5.2" stroke="#000" stroke-width="1"/>
<text x="291.9" y="268.4" font-size="16" text-anchor="middle">0.5</text>
<path d="M351.4,250.5v-5.2" stroke="#000" stroke-width="1"/>
<text x="354.0" y="268.4" font-size="16" text-anchor="middle">1</text>
<text x="233.4" y="22.5" font-size="16.6" text-anchor="middle">Q=4</text>
<text transform="translate(38.4,142.6) rotate(-90)" font-size="16" text-anchor="middle">b</text>
<g transform="translate(233.85,277.0) scale(1.0)" fill="none" stroke="#000" stroke-linecap="round"><path d="M-3.65,-3.8C-3.45,-5.4 -2.25,-6.0 -1.45,-5.1C-0.65,-4.1 -0.05,-1.5 0.45,0.6" stroke-width="1.15"/><path d="M3.65,-5.7C2.75,-3.4 1.35,-0.8 0.45,0.9C-0.05,2.5 -0.3,4.3 -0.25,5.6" stroke-width="0.95"/><path d="M-0.05,2.2C-0.35,3.4 -0.4,4.6 -0.25,5.5" stroke-width="1.5"/></g>
<path d="M194.7,97.2H401.0" stroke="#000" stroke-width="0.8"/>
<path d="M194.7,69.8H401.0" stroke="#0000ff" stroke-opacity="0.5" stroke-width="1" stroke-dasharray="2.3 1.9"/>
<path d="M206.6,56.6V65.3M204.0,56.6H209.2M204.0,65.3H209.2M204.0,60.9H209.2" stroke="#ff0000" stroke-width="0.9" fill="none"/>
<path d="M209.3,57.0V65.6M206.7,57.0H211.9M206.7,65.6H211.9M206.7,61.3H211.9" stroke="#ff0000" stroke-width="0.9" fill="none"/>
<path d="M212.3,57.5V65.9M209.7,57.5H214.9M209.7,65.9H214.9M209.7,61.7H214.9" stroke="#ff0000" stroke-width="0.9" fill="none"/>
<path d="M215.4,58.0V66.3M212.8,58.0H218.0M212.8,66.3H218.0M212.8,62.1H218.0" stroke="#ff0000" stroke-width="0.9" fill="none"/>
<path d="M218.6,58.5V66.6M216.0,58.5H221.2M216.0,66.6H221.2M216.0,62.6H221.2" stroke="#ff0000" stroke-width="0.9" fill="none"/>
<path d="M222.1,59.1V67.0M219.5,59.1H224.7M219.5,67.0H224.7M219.5,63.1H224.7" stroke="#ff0000" stroke-width="0.9" fill="none"/>
<path d="M225.9,59.7V67.5M223.3,59.7H228.5M223.3,67.5H228.5M223.3,63.6H228.5" stroke="#ff0000" stroke-width="0.9" fill="none"/>
<path d="M229.9,60.3V67.9M227.3,60.3H232.5M227.3,67.9H232.5M227.3,64.1H232.5" stroke="#ff0000" stroke-width="0.9" fill="none"/>
<path d="M234.2,61.0V68.4M231.6,61.0H236.8M231.6,68.4H236.8M231.6,64.7H236.8" stroke="#ff0000" stroke-width="0.9" fill="none"/>
<path d="M238.9,61.8V68.9M236.3,61.8H241.5M236.3,68.9H241.5M236.3,65.4H241.5" stroke="#ff0000" stroke-width="0.9" fill="none"/>
<path d="M244.0,62.6V69.5M241.4,62.6H246.6M241.4,69.5H246.6M241.4,66.1H246.6" stroke="#ff0000" stroke-width="0.9" fill="none"/>
<path d="M249.7,63.5V70.2M247.1,63.5H252.3M247.1,70.2H252.3M247.1,66.9H252.3" stroke="#ff0000" stroke-width="0.9" fill="none"/>
<path d="M256.0,64.6V70.9M253.4,64.6H258.6M253.4,70.9H258.6M253.4,67.7H258.6" stroke="#ff0000" stroke-width="0.9" fill="none"/>
<path d="M263.2,66.4V72.2M260.6,66.4H265.8M260.6,72.2H265.8M260.6,69.3H265.8" stroke="#ff0000" stroke-width="0.9" fill="none"/>
<path d="M271.4,67.2V73.4M268.8,67.2H274.0M268.8,73.4H274.0M268.8,70.3H274.0" stroke="#ff0000" stroke-width="0.9" fill="none"/>
<path d="M281.1,68.2V74.9M278.5,68.2H283.7M278.5,74.9H283.7M278.5,71.6H283.7" stroke="#ff0000" stroke-width="0.9" fill="none"/>
<path d="M292.8,69.3V76.7M290.2,69.3H295.4M290.2,76.7H295.4M290.2,73.0H295.4" stroke="#ff0000" stroke-width="0.9" fill="none"/>
<path d="M307.6,70.2V78.9M305.0,70.2H310.2M305.0,78.9H310.2M305.0,74.6H310.2" stroke="#ff0000" stroke-width="0.9" fill="none"/>
<path d="M327.4,71.2V80.8M324.8,71.2H330.0M324.8,80.8H330.0M324.8,76.0H330.0" stroke="#ff0000" stroke-width="0.9" fill="none"/>
<path d="M356.0,66.8V80.1M353.4,66.8H358.6M353.4,80.1H358.6M353.4,73.4H358.6" stroke="#ff0000" stroke-width="0.9" fill="none"/>
<path d="M393.6,59.5V86.0M391.0,59.5H396.2M391.0,86.0H396.2M391.0,72.8H396.2" stroke="#ff0000" stroke-width="0.9" fill="none"/>
<rect x="194.7" y="44.0" width="206.3" height="126.2" fill="none" stroke="#000" stroke-width="1.1"/>
<text x="187.5" y="174.5" font-size="13" text-anchor="end">0.4</text>
<path d="M194.7,145.0h5" stroke="#000" stroke-width="1"/>
<text x="187.5" y="149.3" font-size="13" text-anchor="end">0.5</text>
<path d="M194.7,119.7h5" stroke="#000" stroke-width="1"/>
<text x="187.5" y="124.0" font-size="13" text-anchor="end">0.6</text>
<path d="M194.7,94.5h5" stroke="#000" stroke-width="1"/>
<text x="187.5" y="98.8" font-size="13" text-anchor="end">0.7</text>
<path d="M194.7,69.2h5" stroke="#000" stroke-width="1"/>
<text x="187.5" y="73.5" font-size="13" text-anchor="end">0.8</text>
<text x="187.5" y="48.3" font-size="13" text-anchor="end">0.9</text>
<path d="M206.6,170.2v-5" stroke="#000" stroke-width="1"/>
<text x="208.1" y="186.1" font-size="13" text-anchor="middle">0.05</text>
<path d="M244.2,170.2v-5" stroke="#000" stroke-width="1"/>
<text x="245.7" y="186.1" font-size="13" text-anchor="middle">0.1</text>
<path d="M281.8,170.2v-5" stroke="#000" stroke-width="1"/>
<text x="283.3" y="186.1" font-size="13" text-anchor="middle">0.2</text>
<path d="M331.5,170.2v-5" stroke="#000" stroke-width="1"/>
<text x="333.0" y="186.1" font-size="13" text-anchor="middle">0.5</text>
<path d="M369.1,170.2v-5" stroke="#000" stroke-width="1"/>
<text x="370.6" y="186.1" font-size="13" text-anchor="middle">1</text>
<text transform="translate(162.3,106.6) rotate(-90)" font-size="13" text-anchor="middle" font-family="Liberation Serif, serif">β</text>
<g transform="translate(298.1,196.1) scale(0.81)" fill="none" stroke="#000" stroke-linecap="round"><path d="M-3.65,-3.8C-3.45,-5.4 -2.25,-6.0 -1.45,-5.1C-0.65,-4.1 -0.05,-1.5 0.45,0.6" stroke-width="1.15"/><path d="M3.65,-5.7C2.75,-3.4 1.35,-0.8 0.45,0.9C-0.05,2.5 -0.3,4.3 -0.25,5.6" stroke-width="0.95"/><path d="M-0.05,2.2C-0.35,3.4 -0.4,4.6 -0.25,5.5" stroke-width="1.5"/></g>
<text x="357" y="162.4" font-size="13" text-anchor="end">fit</text>
<path d="M374,157.8H387" stroke="#0000ff" stroke-opacity="0.5" stroke-width="1" stroke-dasharray="2.3 1.9"/>
</svg>
</body></html>
